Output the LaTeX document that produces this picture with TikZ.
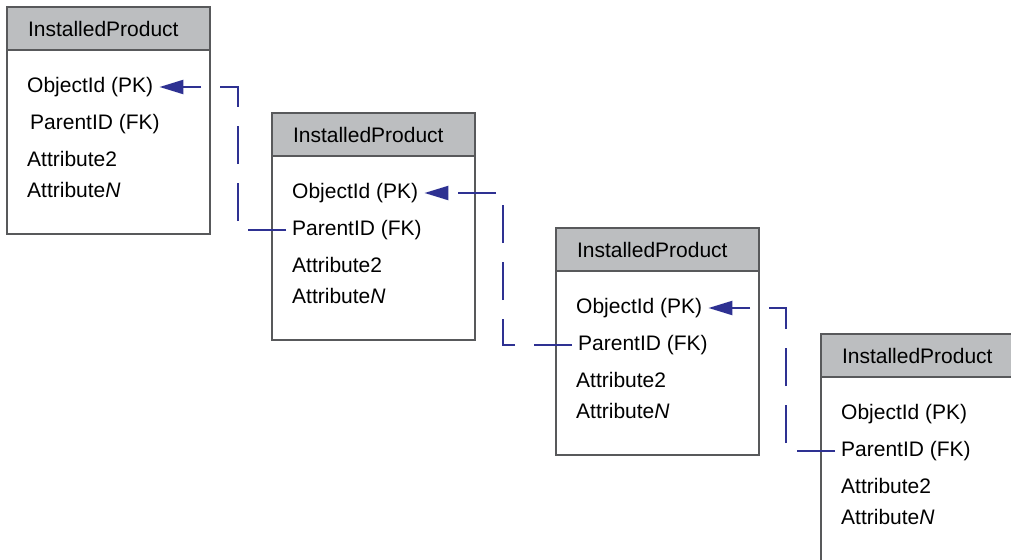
\documentclass[tikz,border=0pt]{standalone}
\usepackage{fontspec}
\setmainfont{Liberation Sans}
\usetikzlibrary{positioning, arrows.meta}
\definecolor{headgray}{HTML}{BCBEC0}
\definecolor{boxgray}{HTML}{58595B}
\definecolor{linkblue}{HTML}{2E3192}
\tikzset{
  head/.style={
    rectangle,
    draw=boxgray,
    line width=1.3pt,
    fill=headgray,
    minimum height=43pt,
    text width=161pt,
    inner xsep=21pt,
    align=left,
    outer sep=0pt,
    font=\fontsize{21}{25}\selectfont
    },
  body/.style={
    rectangle,
    draw=boxgray,
    line width=1.3pt,
    fill=white,
    minimum width=203pt,
    minimum height=184pt,
    outer sep=0pt
    },
  field/.style={
    anchor=west,
    inner xsep=6pt,
    inner ysep=2pt,
    font=\fontsize{21}{25}\selectfont
    },
  link/.style={
    draw=linkblue,
    line width=2.3pt,
    dash pattern=on 38pt off 19pt,
    -{Triangle[length=24pt,width=14pt]}
    }
}

\begin{document}
\begin{tikzpicture}[x=1pt, y=-1pt]
\useasboundingbox (0,0) rectangle (1011,559);
\clip (0,0) rectangle (1011,559);
% tables
\node (head1) [head, anchor=north west] at (7,7) {InstalledProduct};
\node (body1) [body, below=0pt of head1] {};
\node (obj1) [field] at ([shift={(14,80)}]head1.north west) {ObjectId (PK)};
\node (par1) [field] at ([shift={(17,117)}]head1.north west) {ParentID (FK)};
\node (att1) [field] at ([shift={(14,152)}]head1.north west) {Attribute2};
\node (attn1) [field] at ([shift={(14,183)}]head1.north west) {Attribute\textit{N}};

\node (head2) [head, anchor=north west] at (272,113) {InstalledProduct};
\node (body2) [body, below=0pt of head2] {};
\node (obj2) [field] at ([shift={(14,80)}]head2.north west) {ObjectId (PK)};
\node (par2) [field] at ([shift={(14,117)}]head2.north west) {ParentID (FK)};
\node (att2) [field] at ([shift={(14,152)}]head2.north west) {Attribute2};
\node (attn2) [field] at ([shift={(14,183)}]head2.north west) {Attribute\textit{N}};

\node (head3) [head, anchor=north west] at (556,228) {InstalledProduct};
\node (body3) [body, below=0pt of head3] {};
\node (obj3) [field] at ([shift={(14,80)}]head3.north west) {ObjectId (PK)};
\node (par3) [field] at ([shift={(16,117)}]head3.north west) {ParentID (FK)};
\node (att3) [field] at ([shift={(14,152)}]head3.north west) {Attribute2};
\node (attn3) [field] at ([shift={(14,183)}]head3.north west) {Attribute\textit{N}};

\node (head4) [head, anchor=north west] at (821,334) {InstalledProduct};
\node (body4) [body, below=0pt of head4] {};
\node (obj4) [field] at ([shift={(14,80)}]head4.north west) {ObjectId (PK)};
\node (par4) [field] at ([shift={(14,117)}]head4.north west) {ParentID (FK)};
\node (att4) [field] at ([shift={(14,152)}]head4.north west) {Attribute2};
\node (attn4) [field] at ([shift={(14,183)}]head4.north west) {Attribute\textit{N}};

% ParentID -> ObjectId
\coordinate (turn1) at ([xshift=28pt]body1.east);
\coordinate (turn2) at ([xshift=28pt]body2.east);
\coordinate (turn3) at ([xshift=27pt]body3.east);
\draw[link] (par2.west) -- (par2.west -| turn1) -- (obj1.east -| turn1) -- (obj1.east);
\draw[link] (par3.west) -- (par3.west -| turn2) -- (obj2.east -| turn2) -- (obj2.east);
\draw[link] (par4.west) -- (par4.west -| turn3) -- (obj3.east -| turn3) -- (obj3.east);
\end{tikzpicture}
\end{document}
